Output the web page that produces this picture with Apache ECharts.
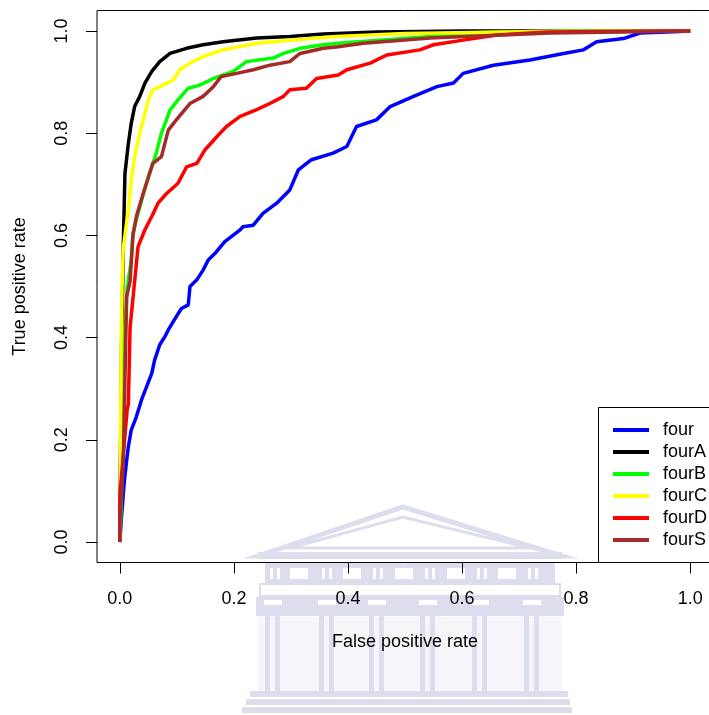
<!DOCTYPE html>
<html lang="en">
<head>
<meta charset="UTF-8">
<title>ROC curves</title>
<style>
  html, body { margin: 0; padding: 0; background: #fff; }
  #chart { width: 709px; height: 715px; }
</style>
</head>
<body>
<div id="chart"></div>
<script src="https://cdn.jsdelivr.net/npm/echarts@6/dist/echarts.min.js"></script>
<script>
// series names and colours (same order R drew them)
var seriesNames = ['four', 'fourA', 'fourB', 'fourC', 'fourD', 'fourS'];
var seriesColors = ['#0000ff', '#000000', '#00ff00', '#ffff00', '#ff0000', '#a52a2a'];
var tickValues = [0, 0.2, 0.4, 0.6, 0.8, 1];

// [false positive rate, true positive rate]
var four = [[0,0],[0.003,0.05],[0.008,0.12],[0.012,0.16],[0.015,0.187],[0.020,0.219],[0.029,0.245],[0.038,0.278],[0.047,0.304],[0.056,0.330],[0.061,0.356],[0.070,0.386],[0.079,0.402],[0.085,0.415],[0.099,0.441],[0.108,0.457],[0.120,0.464],[0.123,0.500],[0.135,0.513],[0.146,0.532],[0.155,0.552],[0.167,0.565],[0.184,0.588],[0.211,0.611],[0.216,0.617],[0.234,0.620],[0.251,0.643],[0.275,0.663],[0.298,0.689],[0.313,0.728],[0.336,0.748],[0.374,0.761],[0.398,0.774],[0.415,0.813],[0.450,0.826],[0.474,0.852],[0.515,0.872],[0.556,0.891],[0.585,0.898],[0.602,0.917],[0.655,0.933],[0.719,0.943],[0.778,0.956],[0.813,0.963],[0.836,0.979],[0.883,0.985],[0.912,0.996],[0.982,0.999],[1,1]];
var fourA = [[0,0],[0.001,0.15],[0.003,0.38],[0.005,0.5],[0.006,0.575],[0.009,0.721],[0.015,0.780],[0.020,0.819],[0.026,0.852],[0.035,0.872],[0.044,0.898],[0.056,0.921],[0.070,0.940],[0.088,0.956],[0.117,0.966],[0.146,0.973],[0.181,0.979],[0.240,0.986],[0.298,0.989],[0.357,0.994],[0.45,0.998],[0.6,1],[1,1]];
var fourB = [[0,0],[0.003,0.09],[0.008,0.4],[0.013,0.5],[0.020,0.55],[0.023,0.604],[0.035,0.656],[0.050,0.715],[0.064,0.761],[0.073,0.800],[0.088,0.845],[0.102,0.865],[0.120,0.888],[0.140,0.894],[0.164,0.907],[0.199,0.921],[0.222,0.940],[0.269,0.947],[0.287,0.956],[0.316,0.966],[0.357,0.973],[0.383,0.976],[0.544,0.989],[0.632,0.997],[0.778,1],[1,1]];
var fourC = [[0,0],[0.001,0.1],[0.002,0.35],[0.004,0.5],[0.006,0.575],[0.015,0.650],[0.020,0.708],[0.026,0.754],[0.035,0.800],[0.041,0.826],[0.050,0.865],[0.058,0.885],[0.070,0.891],[0.094,0.904],[0.105,0.924],[0.123,0.937],[0.146,0.950],[0.181,0.963],[0.240,0.976],[0.298,0.982],[0.380,0.989],[0.5,0.995],[0.74,0.999],[1,1]];
var fourD = [[0,0],[0,0.09],[0.003,0.13],[0.013,0.26],[0.015,0.27],[0.018,0.42],[0.026,0.51],[0.032,0.578],[0.044,0.611],[0.056,0.637],[0.067,0.663],[0.082,0.682],[0.102,0.702],[0.117,0.734],[0.135,0.741],[0.149,0.767],[0.170,0.793],[0.187,0.813],[0.211,0.833],[0.240,0.846],[0.263,0.858],[0.287,0.872],[0.298,0.885],[0.327,0.888],[0.345,0.907],[0.383,0.914],[0.398,0.924],[0.439,0.937],[0.468,0.953],[0.526,0.963],[0.550,0.973],[0.602,0.982],[0.661,0.992],[0.749,0.998],[0.95,1],[1,1]];
var fourS = [[0,0],[0,0.04],[0.006,0.15],[0.009,0.32],[0.012,0.48],[0.018,0.51],[0.023,0.6],[0.029,0.637],[0.041,0.682],[0.058,0.741],[0.073,0.754],[0.085,0.806],[0.099,0.826],[0.123,0.858],[0.146,0.872],[0.164,0.891],[0.178,0.911],[0.205,0.917],[0.234,0.924],[0.263,0.933],[0.298,0.940],[0.316,0.956],[0.357,0.966],[0.383,0.969],[0.427,0.976],[0.544,0.986],[0.754,0.996],[1,1]];
var seriesData = [four, fourA, fourB, fourC, fourD, fourS];

var chart = echarts.init(document.getElementById('chart'));
var font = 'Liberation Sans, Arial, sans-serif';

// faint temple watermark behind the bottom axis
var wm = '#dcdded';
var watermark = [
    { type: 'rect', shape: { x: 258, y: 617, width: 304, height: 74 }, style: { fill: '#f5f5fa' } },
    { type: 'polygon', shape: { points: [[258, 556], [403, 507], [562, 556]] }, style: { fill: 'none', stroke: wm, lineWidth: 5 } },
    { type: 'polygon', shape: { points: [[290, 548], [403, 517], [530, 548]] }, style: { fill: 'none', stroke: wm, lineWidth: 3 } },
    { type: 'rect', shape: { x: 258, y: 552, width: 304, height: 7 }, style: { fill: wm } },
    { type: 'rect', shape: { x: 265, y: 563, width: 290, height: 20 }, style: { fill: wm } },
    { type: 'rect', shape: { x: 260, y: 584, width: 300, height: 12 }, style: { fill: 'none', stroke: wm, lineWidth: 2 } },
    { type: 'rect', shape: { x: 256, y: 597, width: 308, height: 19 }, style: { fill: wm } },
    { type: 'rect', shape: { x: 250, y: 691, width: 318, height: 6 }, style: { fill: wm } },
    { type: 'rect', shape: { x: 246, y: 699, width: 324, height: 6 }, style: { fill: wm } },
    { type: 'rect', shape: { x: 242, y: 707, width: 330, height: 6 }, style: { fill: wm } }
];
[270, 322, 373, 425, 477, 528].forEach(function (x) {
    watermark.push({ type: 'rect', shape: { x: x, y: 568, width: 3, height: 11 }, style: { fill: '#fff' } });
    watermark.push({ type: 'rect', shape: { x: x + 7, y: 568, width: 3, height: 11 }, style: { fill: '#fff' } });
});
[290, 343, 395, 447, 498].forEach(function (x) {
    watermark.push({ type: 'rect', shape: { x: x, y: 568, width: 18, height: 11 }, style: { fill: '#fff' } });
});
[273, 327, 377, 428, 480, 532].forEach(function (c) {
    watermark.push({ type: 'rect', shape: { x: c - 9, y: 600, width: 18, height: 5 }, style: { fill: '#fff' } });
    watermark.push({ type: 'rect', shape: { x: c - 8, y: 616, width: 5, height: 75 }, style: { fill: wm } });
    watermark.push({ type: 'rect', shape: { x: c + 2, y: 616, width: 5, height: 75 }, style: { fill: wm } });
});
watermark.forEach(function (el) { el.z = -10; el.silent = true; });

var option = {
    backgroundColor: '#fff',
    animation: false,
    grid: {
        left: 97, top: 10.5, width: 616, height: 552, z: 10,
        show: true, borderColor: '#000', borderWidth: 1,
        outerBoundsMode: 'none'
    },
    xAxis: {
        type: 'value', min: -0.04, max: 1.04, z: 10,
        name: 'False positive rate', nameLocation: 'middle', nameGap: 71,
        nameTextStyle: { color: '#000', fontSize: 18, fontFamily: font },
        axisLine: { show: false, onZero: false },
        splitLine: { show: false },
        axisTick: { show: true, length: 11, customValues: tickValues, lineStyle: { color: '#000' } },
        axisLabel: {
            customValues: tickValues, margin: 28, color: '#000', fontSize: 18, fontFamily: font,
            formatter: function (v) { return v.toFixed(1); }
        }
    },
    yAxis: {
        type: 'value', min: -0.04, max: 1.04, z: 10,
        name: 'True positive rate', nameLocation: 'middle', nameGap: 68,
        nameTextStyle: { color: '#000', fontSize: 18, fontFamily: font },
        axisLine: { show: false, onZero: false },
        splitLine: { show: false },
        axisTick: { show: true, length: 11, customValues: tickValues, lineStyle: { color: '#000' } },
        axisLabel: {
            customValues: tickValues, rotate: 90, margin: 26, color: '#000', fontSize: 18, fontFamily: font,
            formatter: function (v) { return v.toFixed(1); }
        }
    },
    legend: {
        data: seriesNames, orient: 'vertical', left: 613, top: 419,
        padding: 0, itemGap: 0, itemWidth: 36, itemHeight: 4, icon: 'rect',
        selectedMode: false,
        textStyle: { color: '#000', fontSize: 18, fontFamily: font, lineHeight: 22, padding: [0, 0, 0, 9] }
    },
    graphic: watermark.concat([
        { type: 'rect', z: 3, shape: { x: 598.5, y: 407.5, width: 200, height: 155 },
          style: { fill: '#fff', stroke: '#000', lineWidth: 1 } }
    ]),
    series: seriesNames.map(function (name, i) {
        return {
            name: name, type: 'line', data: seriesData[i],
            showSymbol: false, symbol: 'none',
            color: seriesColors[i],
            lineStyle: { color: seriesColors[i], width: 3.5 }
        };
    })
};
chart.setOption(option);
</script>
</body>
</html>
